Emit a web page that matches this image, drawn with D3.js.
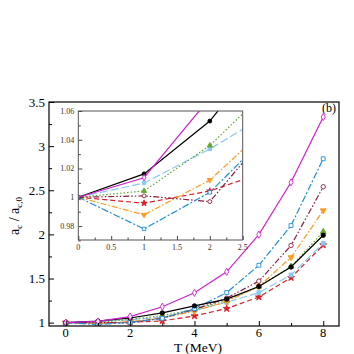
<!DOCTYPE html>
<html>
<head>
<meta charset="utf-8">
<script src="https://cdn.jsdelivr.net/npm/d3@7"></script>
<style>
  body { margin: 0; background: #fff; }
  text { font-family: "Liberation Serif", "DejaVu Serif", serif; }
</style>
</head>
<body>
<svg id="chart" width="354" height="354"></svg>
<script>
const temps = [0, 1, 2, 3, 4, 5, 6, 7, 8];

const magenta   = [1, 1.0136, 1.069, 1.18, 1.338, 1.576, 1.997, 2.59, 3.33];
const blue      = [1, 0.978, 1.0034, 1.049, 1.16, 1.34, 1.65, 2.10, 2.857];
const maroon    = [1, 1.001, 0.997, 1.051, 1.15, 1.277, 1.47, 1.875, 2.54];
const orange    = [1, 0.9878, 1.012, 1.054, 1.13, 1.24, 1.41, 1.74, 2.27];
const green     = [1, 1.0044, 1.036, 1.08, 1.15, 1.25, 1.41, 1.636, 2.03];
const black     = [1, 1.0163, 1.053, 1.11, 1.19, 1.266, 1.41, 1.63, 1.99];
const lightblue = [1, 1.0099, 1.0336, 1.061, 1.14, 1.23, 1.34, 1.54, 1.90];
const red       = [1, 0.9959, 1.0044, 1.02, 1.076, 1.16, 1.29, 1.51, 1.88];

const mainXTicks = [0, 2, 4, 6, 8];
const mainYTicks = [1, 1.5, 2, 2.5, 3, 3.5];
const insetXTicks = [0, 0.5, 1, 1.5, 2, 2.5];
const insetYTicks = [0.98, 1, 1.02, 1.04, 1.06];

const series = [
  {v: red,       color: "#d81e28", dash: "5,3",             sym: d3.symbolStar,     fill: true},
  {v: lightblue, color: "#88c8f4", dash: "8,3",             sym: d3.symbolSquare,   fill: true},
  {v: green,     color: "#62a82c", dash: "1.5,2",           sym: d3.symbolTriangle, fill: true},
  {v: orange,    color: "#ff9a1e", dash: "6,2,1.5,2",       sym: d3.symbolTriangle, fill: true, down: true},
  {v: maroon,    color: "#8c1c3c", dash: "6,2,1.5,2,1.5,2", sym: d3.symbolCircle,   fill: false},
  {v: blue,      color: "#2090d8", dash: "7,2,2,2",         sym: d3.symbolSquare,   fill: false},
  {v: black,     color: "#000000", dash: null,              sym: d3.symbolCircle,   fill: true},
  {v: magenta,   color: "#d020d0", dash: null,              sym: d3.symbolDiamond,  fill: false}
];

const svg = d3.select("#chart");
const L = 49, R = 339, T = 102, B = 326;

const x = d3.scaleLinear().domain([-0.52, 8.49]).range([L, R]);
const y = d3.scaleLinear().domain([0.962, 3.5]).range([B, T]);

function drawSeries(g, xs, ys, size) {
  series.forEach(s => {
    const pts = temps.map((t, i) => [t, s.v[i]]);
    g.append("path")
      .datum(pts)
      .attr("fill", "none")
      .attr("stroke", s.color)
      .attr("stroke-width", 1.2)
      .attr("stroke-dasharray", s.dash)
      .attr("d", d3.line().x(d => xs(d[0])).y(d => ys(d[1])));
    g.selectAll(null)
      .data(pts)
      .join("path")
      .attr("transform", d => `translate(${xs(d[0])},${ys(d[1])})` + (s.down ? " rotate(180)" : ""))
      .attr("d", d3.symbol(s.sym, size))
      .attr("fill", s.fill ? s.color : "#fff")
      .attr("stroke", s.color)
      .attr("stroke-width", 0.9);
  });
}

// main plot
svg.append("clipPath").attr("id", "mainclip")
  .append("rect").attr("x", L).attr("y", T).attr("width", R - L).attr("height", B - T);
const mg = svg.append("g").attr("clip-path", "url(#mainclip)");
drawSeries(mg, x, y, 15);

// main axes (ticks inward)
const yAx = svg.append("g").attr("transform", `translate(${L},0)`)
  .call(d3.axisRight(y).tickValues(d3.range(1, 3.51, 0.25)).tickSize(4).tickFormat(""));
yAx.select(".domain").remove();
yAx.selectAll(".tick line").attr("x2", d => (Math.abs(d * 2 - Math.round(d * 2)) < 1e-6) ? 5 : 3);
mainYTicks.forEach(v => {
  svg.append("text").attr("x", L - 4).attr("y", y(v)).attr("dy", "0.35em")
    .attr("text-anchor", "end").attr("font-size", 13).text(v);
});

const xAx = svg.append("g").attr("transform", `translate(0,${B})`)
  .call(d3.axisTop(x).tickValues(d3.range(0, 9, 1)).tickSize(4).tickFormat(""));
xAx.select(".domain").remove();
xAx.selectAll(".tick line").attr("y2", d => d % 2 === 0 ? -5 : -3);
mainXTicks.forEach(v => {
  svg.append("text").attr("x", x(v)).attr("y", B + 11).attr("text-anchor", "middle")
    .attr("font-size", 12.5).text(v);
});

svg.append("rect").attr("x", L).attr("y", T).attr("width", R - L).attr("height", B - T)
  .attr("fill", "none").attr("stroke", "#000").attr("stroke-width", 1.2);

svg.append("text").attr("x", (L + R) / 2 + 4).attr("y", 352).attr("text-anchor", "middle")
  .attr("font-size", 13.5).text("T (MeV)");

const yl = svg.append("text").attr("transform", `translate(19,216) rotate(-90)`)
  .attr("text-anchor", "middle").attr("font-size", 14);
yl.append("tspan").text("a");
yl.append("tspan").attr("font-size", 9).attr("dy", 3).text("c");
yl.append("tspan").attr("dy", -3).text(" / a");
yl.append("tspan").attr("font-size", 9).attr("dy", 3).text("c,0");

svg.append("text").attr("x", 336).attr("y", 112).attr("text-anchor", "end")
  .attr("font-size", 12).text("(b)");

// inset
const iL = 78.3, iR = 242.7, iT = 111, iB = 240;
const ix = d3.scaleLinear().domain([0, 2.5]).range([iL, iR]);
const iy = d3.scaleLinear().domain([0.9703, 1.06]).range([iB, iT]);

svg.append("rect").attr("x", iL).attr("y", iT).attr("width", iR - iL).attr("height", iB - iT)
  .attr("fill", "#fff");
svg.append("clipPath").attr("id", "insetclip")
  .append("rect").attr("x", iL).attr("y", iT).attr("width", iR - iL).attr("height", iB - iT);
const ig = svg.append("g").attr("clip-path", "url(#insetclip)");
drawSeries(ig, ix, iy, 12);

const iyAx = svg.append("g").attr("transform", `translate(${iL},0)`)
  .call(d3.axisRight(iy).tickValues(d3.range(0.97, 1.0601, 0.01)).tickSize(3).tickFormat(""));
iyAx.select(".domain").remove();
iyAx.selectAll(".tick line").attr("stroke", "#444")
  .attr("x2", d => (Math.round(d * 100) % 2 === 0) ? 4 : 2.5);
insetYTicks.forEach(v => {
  svg.append("text").attr("x", iL - 4).attr("y", iy(v)).attr("dy", "0.35em")
    .attr("text-anchor", "end").attr("font-size", 8).attr("fill", "#333").text(v);
});

const ixAx = svg.append("g").attr("transform", `translate(0,${iB})`)
  .call(d3.axisTop(ix).tickValues(d3.range(0, 2.51, 0.25)).tickSize(3).tickFormat(""));
ixAx.select(".domain").remove();
ixAx.selectAll(".tick line").attr("stroke", "#444")
  .attr("y2", d => (Math.round(d * 100) % 50 === 0) ? -4 : -2.5);
insetXTicks.forEach(v => {
  svg.append("text").attr("x", ix(v)).attr("y", iB + 10).attr("text-anchor", "middle")
    .attr("font-size", 8).attr("fill", "#333").text(v);
});

svg.append("rect").attr("x", iL).attr("y", iT).attr("width", iR - iL).attr("height", iB - iT)
  .attr("fill", "none").attr("stroke", "#555").attr("stroke-width", 1);
</script>
</body>
</html>
